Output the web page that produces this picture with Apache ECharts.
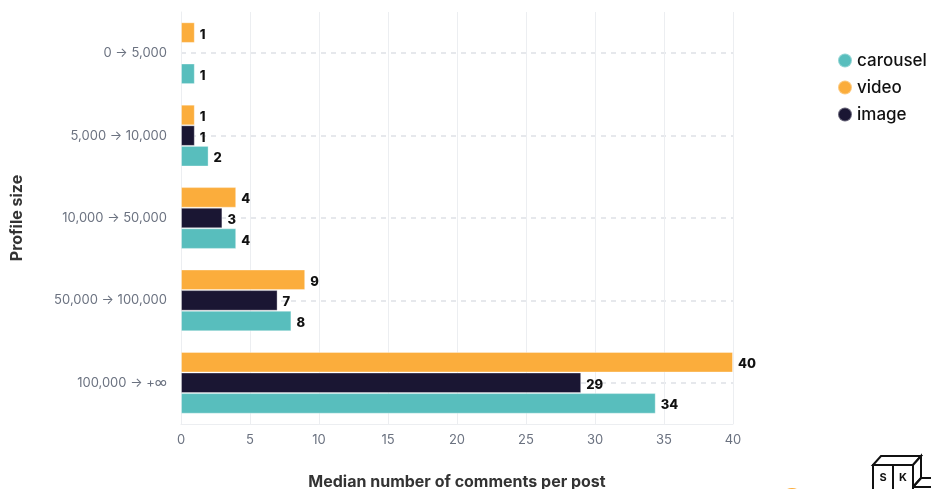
<!DOCTYPE html>
<html>
<head>
<meta charset="utf-8">
<script src="https://cdn.jsdelivr.net/npm/echarts@6/dist/echarts.min.js"></script>
<style>
html,body{margin:0;padding:0;background:#fff;}
#chart{width:931px;height:489px;}
</style>
</head>
<body>
<div id="chart"></div>
<script>
const categories = ['0 → 5,000', '5,000 → 10,000', '10,000 → 50,000', '50,000 → 100,000', '100,000 → +∞'];
const carousel = [1, 2, 4, 8, 34.4];
const image = [null, 1, 3, 7, 29];
const video = [1, 1, 4, 9, 40];
const xTicks = [0, 5, 10, 15, 20, 25, 30, 35, 40];

const colors = { carousel: '#58BEBD', video: '#FBAD3C', image: '#1A1633' };

const chart = echarts.init(document.getElementById('chart'), null, { renderer: 'canvas' });

const labelCfg = {
  show: true,
  position: 'right',
  distance: 5,
  offset: [0, 2],
  color: '#111',
  fontFamily: 'Inter',
  fontWeight: 800,
  fontSize: 13,
  formatter: p => Math.round(p.value)
};

function mk(name, data) {
  return {
    name: name,
    type: 'bar',
    data: data,
    barGap: '0%',
    barCategoryGap: '25%',
    itemStyle: { color: colors[name], borderColor: 'rgba(255,255,255,0.35)', borderWidth: 1 },
    label: labelCfg
  };
}

chart.setOption({
  animation: false,
  grid: { left: 181, right: 198, top: 12, bottom: 65, containLabel: false, outerBoundsMode: 'none' },
  legend: {
    data: ['carousel', 'video', 'image'],
    orient: 'vertical',
    left: 832,
    top: 47,
    icon: 'circle',
    itemWidth: 14,
    itemHeight: 14,
    itemGap: 10,
    textStyle: { fontFamily: 'Inter', fontSize: 17, fontWeight: 500, color: '#111' }
  },
  xAxis: {
    type: 'value',
    min: xTicks[0],
    max: xTicks[xTicks.length - 1],
    interval: 5,
    name: 'Median number of comments per post',
    nameLocation: 'middle',
    nameGap: 50,
    nameTextStyle: { fontFamily: 'Inter', fontWeight: 'bold', fontSize: 16, color: '#333' },
    axisLine: { show: true, lineStyle: { color: '#eceef1' } },
    axisTick: { show: false },
    axisLabel: { color: '#6b7280', fontFamily: 'Inter', fontSize: 13, margin: 10 },
    splitLine: { show: true, lineStyle: { color: '#eceef1', width: 1 } }
  },
  yAxis: {
    type: 'category',
    data: categories,
    inverse: true,
    name: 'Profile size',
    nameLocation: 'middle',
    nameGap: 156,
    nameRotate: 90,
    nameTextStyle: { fontFamily: 'Inter', fontWeight: 'bold', fontSize: 16, color: '#333' },
    axisLine: { show: true, lineStyle: { color: '#eceef1' } },
    axisTick: { show: false, alignWithLabel: true },
    axisLabel: { color: '#6b7280', fontFamily: 'Inter', fontSize: 13, margin: 14 },
    splitLine: { show: true, alignWithLabel: true, lineStyle: { color: '#e6e8ec', type: [5, 5], width: 2 } }
  },
  series: [mk('video', video), mk('image', image), mk('carousel', carousel)],
  graphic: [
    { type: 'circle', shape: { cx: 792, cy: 500, r: 12 }, style: { fill: '#FBAD3C' } },
    { type: 'group', left: 872, top: 455, children: [
      { type: 'polygon', shape: { points: [[0,9],[8,0],[48,0],[40,9]] }, style: { fill: '#fff', stroke: '#111', lineWidth: 2 } },
      { type: 'polygon', shape: { points: [[40,9],[48,0],[48,22],[40,31]] }, style: { fill: '#fff', stroke: '#111', lineWidth: 2 } },
      { type: 'rect', shape: { x: 0, y: 9, width: 40, height: 30 }, style: { fill: '#fff', stroke: '#111', lineWidth: 2 } },
      { type: 'line', shape: { x1: 20, y1: 9, x2: 20, y2: 39 }, style: { stroke: '#111', lineWidth: 2 } },
      { type: 'polyline', shape: { points: [[40,31],[48,22],[62,22]] }, style: { fill: 'none', stroke: '#111', lineWidth: 2 } },
      { type: 'line', shape: { x1: 40, y1: 31, x2: 62, y2: 31 }, style: { stroke: '#111', lineWidth: 2 } },
      { type: 'text', style: { x: 10, y: 16, text: 'S', font: 'bold 11px Inter', fill: '#111', textAlign: 'center' } },
      { type: 'text', style: { x: 30, y: 16, text: 'K', font: 'bold 11px Inter', fill: '#111', textAlign: 'center' } }
    ]}
  ]
});
</script>
</body>
</html>
